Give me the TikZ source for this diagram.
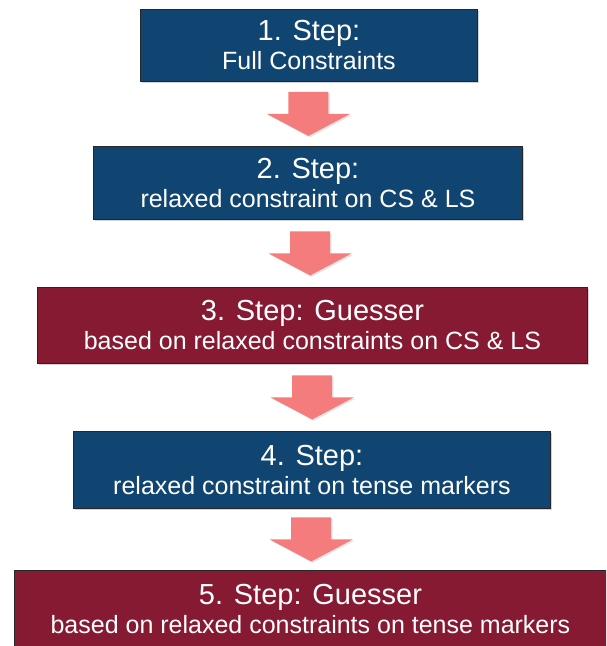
\documentclass[tikz,border=0pt]{standalone}
\usepackage{fontspec}
\setmainfont{Liberation Sans}
\usepackage{tikz}
\usetikzlibrary{calc,shadows}
\definecolor{etazul}{HTML}{0F4570}
\definecolor{etvinho}{HTML}{861A32}
\definecolor{etseta}{HTML}{F47C7C}
\definecolor{etborda}{HTML}{262626}
\newcommand{\titetapa}[1]{{\fontsize{29}{31}\selectfont #1}}
\tikzset{
  caixa/.style={draw=etborda,line width=0.9pt,text=white,align=center,inner sep=0pt,
    anchor=north west,font=\fontsize{25}{29}\selectfont,
    drop shadow={opacity=0.35,shadow xshift=2pt,shadow yshift=-2pt}},
  azul/.style={caixa,fill=etazul},
  vinho/.style={caixa,fill=etvinho},
  seta/.style={fill=etseta,drop shadow={opacity=0.2,shadow xshift=1.5pt,shadow yshift=-1.5pt}},
}

\begin{document}
\begin{tikzpicture}[x=1pt,y=-1pt]
  \useasboundingbox (0,0) rectangle (606,646);
  \clip (0,0) rectangle (606,646);
  % --- etapas
  \node[azul,minimum width=337,minimum height=72] (s1) at (140,9)
    {\titetapa{1. Step:}\\Full Constraints};
  \node[azul,minimum width=429,minimum height=73] (s2) at (93,146)
    {\titetapa{2. Step:}\\relaxed constraint on CS \& LS};
  \node[vinho,minimum width=550,minimum height=76] (s3) at (37,287)
    {\titetapa{3. Step: Guesser}\\based on relaxed constraints on CS \& LS};
  \node[azul,minimum width=477,minimum height=77] (s4) at (73,431)
    {\titetapa{4. Step:}\\relaxed constraint on tense markers};
  \node[vinho,minimum width=592,minimum height=77] (s5) at (14,570)
    {\titetapa{5. Step: Guesser}\\based on relaxed constraints on tense markers};
  % --- setas entre as etapas
  \foreach \a/\b in {s1/s2,s2/s3,s3/s4,s4/s5}{
    \coordinate (m) at ($(\a.south)!.5!(\b.north)$);
    \fill[seta] (m) ++(-20,-22) -- ++(40,0) -- ++(0,22) -- ++(21.5,0)
      -- ++(-41.5,22) -- ++(-41.5,-22) -- ++(21.5,0) -- cycle;
  }
\end{tikzpicture}
\end{document}
